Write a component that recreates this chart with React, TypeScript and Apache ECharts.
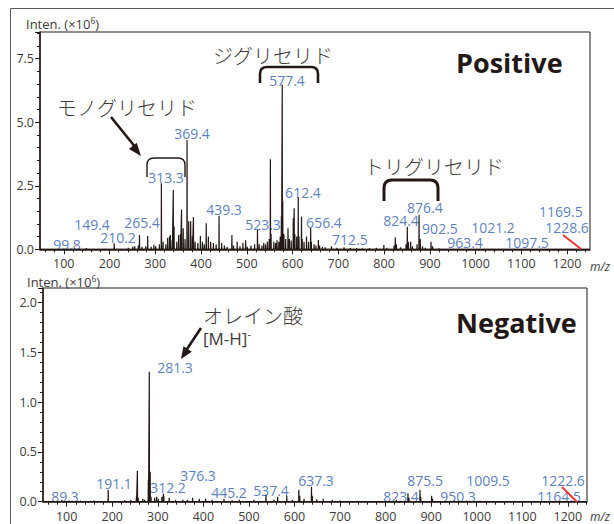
import React, { useEffect, useRef } from "react";
import * as echarts from "echarts";

// ---- Data (m/z, intensity ×10^6) ----
const posPeaks: [number, number][] = [
  [99.8, 0.03], [149.4, 0.05], [210.2, 0.24], [241, 0.06], [251, 0.1], [255, 0.12], [263, 0.15],
  [265.4, 0.56], [271, 0.1], [279, 0.12], [283.3, 0.52], [291, 0.1], [297, 0.18], [301, 0.12],
  [309, 0.2], [313.3, 2.6], [317, 0.3], [323, 0.2], [327, 0.45], [331, 0.5], [333, 0.56],
  [337, 0.35], [339.3, 2.33], [341, 0.9], [347, 0.3], [351, 0.56], [355, 0.6], [357.3, 1.57],
  [361, 0.83], [365, 0.4], [369.4, 4.3], [373, 1.1], [377.3, 1.1], [381, 0.5], [383.3, 1.27],
  [387, 0.3], [393, 0.25], [398.5, 0.52], [403, 0.3], [407, 0.2], [411.3, 1.02], [416, 0.5],
  [421, 0.3], [427, 0.25], [433, 0.2], [439.3, 1.32], [445, 0.25], [451, 0.15], [457, 0.1],
  [467.4, 0.56], [471, 0.15], [479, 0.3], [485, 0.12], [491.5, 0.26], [497.4, 0.36], [501, 0.1],
  [509, 0.15], [517, 0.2], [523.3, 0.76], [527, 0.2], [533, 0.15], [537, 0.25], [541, 0.2],
  [545, 0.3], [549, 0.4], [551.5, 3.54], [553, 0.6], [559, 0.3], [563, 0.25], [566, 0.36],
  [570, 0.3], [573, 0.5], [575.5, 1.3], [577.4, 6.47], [578.5, 1.9], [581, 0.6], [585, 0.4],
  [590, 0.83], [593, 0.4], [597, 0.35], [601.5, 1.22], [603.5, 1.61], [605, 0.6], [609, 0.5],
  [612.4, 2.05], [614, 0.5], [619.5, 1.28], [621, 0.4], [625, 0.3], [630.5, 0.5], [635, 0.3],
  [639.5, 0.84], [641, 0.3], [647, 0.2], [651, 0.15], [656.4, 0.37], [659, 0.15], [665, 0.1],
  [671, 0.08], [685, 0.12], [697, 0.06], [712.5, 0.08], [726, 0.05], [740, 0.05], [752, 0.04],
  [768, 0.05], [783, 0.06], [799.5, 0.17], [806, 0.06], [822, 0.15], [824.4, 0.47], [827, 0.2],
  [836, 0.08], [848, 0.2], [850.7, 0.89], [853, 0.3], [858, 0.3], [862, 0.12], [872, 0.2],
  [876.4, 1.36], [879, 0.4], [884, 0.12], [890, 0.06], [902.5, 0.3], [906, 0.12], [920, 0.04],
  [963.4, 0.03], [1021.2, 0.02], [1097.5, 0.02], [1169.5, 0.02], [1228.6, 0.02],
];

const negPeaks: [number, number][] = [
  [89.3, 0.02], [130, 0.01], [160, 0.01], [191.1, 0.12], [227, 0.015], [241, 0.02], [253, 0.05],
  [255.2, 0.31], [257, 0.04], [267, 0.03], [271, 0.02], [279.2, 0.22], [281.3, 1.305],
  [282.3, 0.3], [283.3, 0.3], [285, 0.05], [293, 0.04], [297.3, 0.05], [301, 0.03], [309, 0.05],
  [312.2, 0.08], [313.2, 0.06], [325, 0.04], [339, 0.02], [355, 0.02], [365, 0.02], [376.3, 0.04],
  [391, 0.03], [405, 0.03], [419, 0.02], [445.2, 0.03], [463, 0.015], [479, 0.02], [511, 0.02],
  [537.4, 0.07], [555, 0.02], [563, 0.05], [583, 0.06], [595, 0.02], [609.5, 0.12], [611.5, 0.06],
  [621, 0.03], [637.3, 0.15], [639, 0.06], [649, 0.025], [663, 0.03], [683, 0.02], [700, 0.01],
  [823.4, 0.02], [849, 0.085], [851, 0.04], [875.5, 0.12], [877, 0.05], [901, 0.06], [903, 0.03],
  [950.3, 0.01], [1009.5, 0.008],
];

// peak label anchors: [m/z, intensity, text]
const posLabels: [number, number, string][] = [
  [107, 0.17, "99.8"], [161.6, 0.96, "149.4"], [218.5, 0.48, "210.2"], [270.9, 1.07, "265.4"],
  [323.3, 2.81, "313.3"], [380.2, 4.54, "369.4"], [450.1, 1.55, "439.3"], [535.3, 0.96, "523.3"],
  [587.8, 6.66, "577.4"], [622.7, 2.25, "612.4"], [668.6, 1.07, "656.4"], [725.4, 0.37, "712.5"],
  [836.9, 1.15, "824.4"], [889.3, 1.63, "876.4"], [922.1, 0.8, "902.5"], [976.8, 0.25, "963.4"],
  [1038, 0.84, "1021.2"], [1112.3, 0.25, "1097.5"], [1186.5, 1.47, "1169.5"], [1199.7, 0.84, "1228.6"],
];

const negLabels: [number, number, string][] = [
  [337.7, 1.352, "281.3"], [96.3, 0.057, "89.3"], [203.8, 0.178, "191.1"], [322.4, 0.138, "312.2"],
  [388.2, 0.268, "376.3"], [456.3, 0.097, "445.2"], [548.4, 0.117, "537.4"], [647.2, 0.208, "637.3"],
  [833.8, 0.057, "823.4"], [886.5, 0.208, "875.5"], [958.9, 0.057, "950.3"], [1024.7, 0.208, "1009.5"],
  [1189.3, 0.208, "1222.6"], [1180.6, 0.057, "1164.5"],
];

const xTickValues = [100, 200, 300, 400, 500, 600, 700, 800, 900, 1000, 1100, 1200];
const posYMax = 8.55;
const negYMax = 2.145;

// ---- helpers ----
function sticks(peaks: [number, number][], lo: number, hi: number) {
  const s = [...peaks].sort((a, b) => a[0] - b[0]);
  const out: [number, number][] = [[lo, 0]];
  for (const [m, h] of s) {
    out.push([m - 0.4, 0], [m, h], [m + 0.4, 0]);
  }
  out.push([hi, 0]);
  return out;
}

function bracketPath(w: number, h: number, r: number) {
  return `M0 ${h} L0 ${r} Q0 0 ${r} 0 L${w - r} 0 Q${w} 0 ${w} ${r} L${w} ${h}`;
}
echarts.graphic.registerShape("bracketDi", echarts.graphic.extendPath(bracketPath(58, 16, 7), {}));
echarts.graphic.registerShape("bracketMono", echarts.graphic.extendPath(bracketPath(38, 19, 7), {}));
echarts.graphic.registerShape("bracketTri", echarts.graphic.extendPath(bracketPath(54, 21, 8), {}));

const INK = "#231815";
const BLUE = "#2f5cb0";
const GRAY = "#3e3a39";
const FONT = "'Open Sans', 'Noto Sans', sans-serif";
const JP = "'Noto Sans CJK JP', sans-serif";

const minorVals: number[] = [];
for (let v = 60; v <= 1240; v += 20) minorVals.push(v);

function majorX(grid: number, min: number, max: number) {
  return {
    type: "value",
    gridIndex: grid,
    position: "bottom",
    min,
    max,
    axisLine: { show: true, onZero: false, lineStyle: { color: INK, width: 1.5 } },
    axisTick: { show: true, length: 5, customValues: xTickValues, lineStyle: { color: INK, width: 1 } },
    axisLabel: {
      show: true, customValues: xTickValues, margin: 8, color: GRAY, fontSize: 12.5, fontFamily: FONT,
      formatter: (v: number) => String(v),
    },
    splitLine: { show: false },
  };
}
function minorX(grid: number, min: number, max: number) {
  return {
    type: "value",
    gridIndex: grid,
    position: "bottom",
    offset: 0,
    min,
    max,
    axisLine: { show: false, onZero: false },
    axisTick: { show: true, length: 3, customValues: minorVals, lineStyle: { color: INK, width: 1 } },
    axisLabel: { show: false },
    splitLine: { show: false },
  };
}
function yAx(grid: number, max: number, interval: number) {
  return {
    type: "value",
    gridIndex: grid,
    min: 0,
    max,
    interval,
    axisLine: { show: true, lineStyle: { color: INK, width: 1.5 } },
    axisTick: { show: true, length: 5, lineStyle: { color: INK, width: 1 } },
    minorTick: { show: true, splitNumber: 5, length: 3, lineStyle: { color: INK, width: 1 } },
    axisLabel: {
      show: true,
      showMaxLabel: false,
      margin: 6,
      color: GRAY,
      fontSize: 12.5,
      fontFamily: FONT,
      formatter: (v: number) => v.toFixed(1),
    },
    splitLine: { show: false },
    minorSplitLine: { show: false },
  };
}

function labelSeries(labels: [number, number, string][], xi: number, yi: number) {
  return {
    type: "scatter",
    xAxisIndex: xi,
    yAxisIndex: yi,
    symbol: "circle",
    symbolSize: 1,
    itemStyle: { color: "rgba(0,0,0,0)" },
    silent: true,
    z: 1,
    label: {
      show: true,
      position: "inside",
      formatter: "{b}",
      color: BLUE,
      fontSize: 14,
      fontFamily: FONT,
    },
    data: labels.map(([m, i, t]) => ({ value: [m, i], name: t })),
  };
}

function arrowHead(tx: number, ty: number, dx: number, dy: number, len: number, half: number) {
  const l = Math.hypot(dx, dy);
  const ux = dx / l, uy = dy / l;
  const bx = tx - ux * len, by = ty - uy * len;
  const px = -uy * half, py = ux * half;
  return [[tx, ty], [bx + px, by + py], [bx - px, by - py]];
}

export default function App() {
  const ref = useRef<HTMLDivElement>(null);
  useEffect(() => {
    if (!ref.current) return;
    const chart = echarts.init(ref.current, undefined, { renderer: "svg" });
    const jpStyle = { fill: "#3e3a39", fontSize: 20, fontFamily: JP, fontWeight: 300 } as any;
    const intenStyle = (text: string) => ({
      text, fill: GRAY, fontSize: 13, fontFamily: FONT, verticalAlign: "middle", lineHeight: 16,
      rich: { sup: { fontSize: 8.5, lineHeight: 16, verticalAlign: "top", fill: GRAY, fontFamily: FONT } },
    });
    chart.setOption({
      animation: false,
      backgroundColor: "#ffffff",
      grid: [
        { left: 40, top: 32, width: 550, height: 217.3, show: true, borderColor: INK, borderWidth: 1, backgroundColor: "transparent" },
        { left: 43, top: 288, width: 544, height: 213.7, show: true, borderColor: INK, borderWidth: 1, backgroundColor: "transparent" },
      ],
      xAxis: [majorX(0, 48, 1250), minorX(0, 48, 1250), majorX(1, 48, 1242), minorX(1, 48, 1242)],
      yAxis: [yAx(0, posYMax, 2.5), yAx(1, negYMax, 0.5)],
      series: [
        labelSeries(posLabels, 0, 0),
        labelSeries(negLabels, 2, 1),
        {
          type: "line",
          xAxisIndex: 0,
          yAxisIndex: 0,
          showSymbol: false,
          silent: true,
          z: 3,
          lineStyle: { color: INK, width: 1.2 },
          data: sticks(posPeaks, 48, 1250),
        },
        {
          type: "line",
          xAxisIndex: 2,
          yAxisIndex: 1,
          showSymbol: false,
          silent: true,
          z: 3,
          lineStyle: { color: INK, width: 1.2 },
          data: sticks(negPeaks, 48, 1242),
        },
      ],
      graphic: [
        { type: "rect", shape: { x: 10.5, y: 8.5, width: 700, height: 600 }, style: { fill: "none", stroke: "#595757", lineWidth: 1 }, z: 0, silent: true },
        { type: "text", x: 26, y: 24, style: intenStyle("Inten. (×10{sup|6})") },
        { type: "text", x: 27, y: 282, style: intenStyle("Inten. (×10{sup|6})") },
        { type: "text", x: 590, y: 266, style: { text: "m/z", fill: GRAY, fontSize: 12, fontStyle: "italic", fontFamily: FONT, verticalAlign: "middle" } },
        { type: "text", x: 590, y: 516, style: { text: "m/z", fill: GRAY, fontSize: 12, fontStyle: "italic", fontFamily: FONT, verticalAlign: "middle" } },
        { type: "text", x: 456, y: 62, style: { text: "Positive", fill: INK, fontSize: 27, fontWeight: "bold", fontFamily: FONT, verticalAlign: "middle" } },
        { type: "text", x: 456, y: 322, style: { text: "Negative", fill: INK, fontSize: 27, fontWeight: "bold", fontFamily: FONT, verticalAlign: "middle" } },
        { type: "text", x: 213, y: 55, style: { ...jpStyle, text: "ジグリセリド", verticalAlign: "middle" } },
        { type: "text", x: 57, y: 107, style: { ...jpStyle, text: "モノグリセリド", verticalAlign: "middle" } },
        { type: "text", x: 364, y: 166, style: { ...jpStyle, text: "トリグリセリド", verticalAlign: "middle" } },
        { type: "text", x: 203, y: 315, style: { ...jpStyle, text: "オレイン酸", verticalAlign: "middle" } },
        {
          type: "text", x: 203, y: 338,
          style: {
            text: "[M-H]{sup|-}", fill: "#3e3a39", fontSize: 17, fontFamily: FONT, verticalAlign: "middle", lineHeight: 20,
            rich: { sup: { fontSize: 11, lineHeight: 20, verticalAlign: "top", fill: "#3e3a39", fontFamily: FONT } },
          },
        },
        { type: "bracketDi", x: 260, y: 67, style: { fill: "none", stroke: INK, lineWidth: 2.6 } },
        { type: "bracketMono", x: 147, y: 158, style: { fill: "none", stroke: INK, lineWidth: 1.4 } },
        { type: "bracketTri", x: 384, y: 180, style: { fill: "none", stroke: INK, lineWidth: 3 } },
        { type: "line", shape: { x1: 111, y1: 117, x2: 136, y2: 148 }, style: { stroke: INK, lineWidth: 2.6 } },
        { type: "polygon", shape: { points: arrowHead(141, 156, 30, 37, 13, 5) }, style: { fill: INK } },
        { type: "line", shape: { x1: 201, y1: 328, x2: 187, y2: 349 }, style: { stroke: INK, lineWidth: 2.6 } },
        { type: "polygon", shape: { points: arrowHead(181, 359, -18, 27, 12, 5) }, style: { fill: INK } },
        { type: "line", shape: { x1: 563, y1: 235, x2: 581, y2: 249 }, style: { stroke: "#e8382f", lineWidth: 2 }, z: 10 },
        { type: "line", shape: { x1: 562, y1: 487, x2: 577, y2: 502 }, style: { stroke: "#e8382f", lineWidth: 2 }, z: 10 },
      ],
    });
    return () => chart.dispose();
  }, []);
  return <div ref={ref} style={{ position: "fixed", left: 0, top: 0, width: 614, height: 524 }} />;
}
